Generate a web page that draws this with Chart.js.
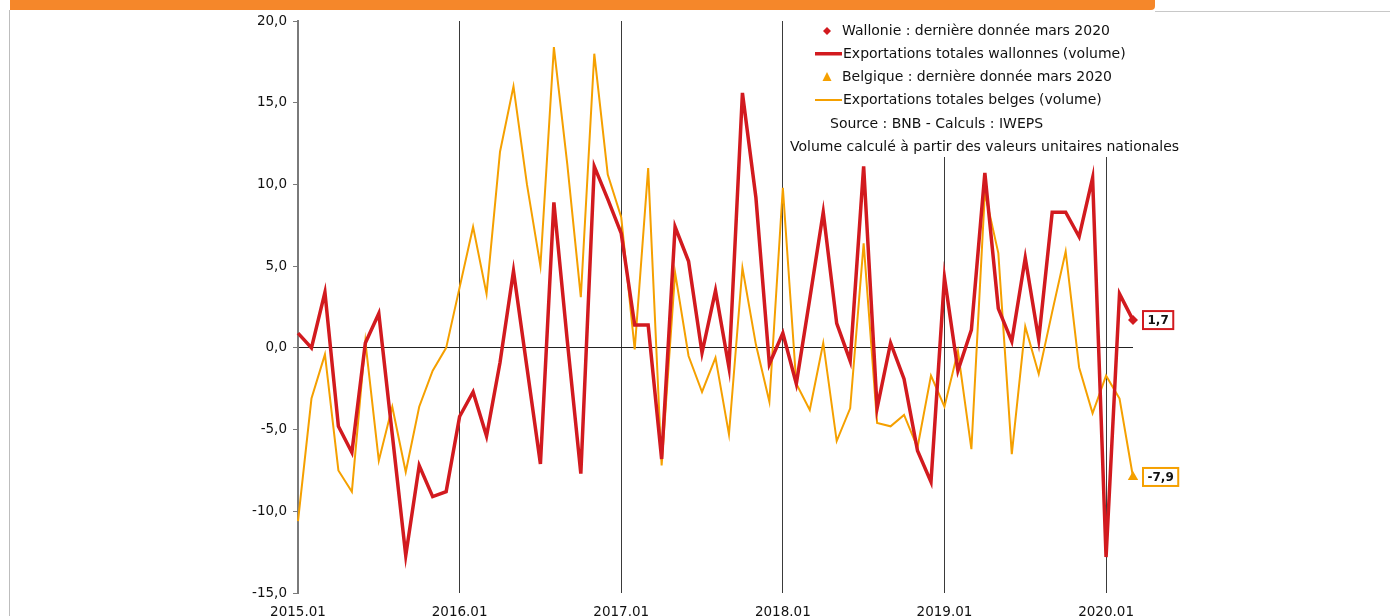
<!DOCTYPE html>
<html>
<head>
<meta charset="utf-8">
<script src="https://cdn.jsdelivr.net/npm/chart.js@4.4.1/dist/chart.umd.min.js"></script>
<style>
  body { margin: 0; background: #fff; overflow: hidden; width: 1394px; height: 616px; position: relative; }
  #topBar { position: absolute; left: 10px; top: 0; width: 1145px; height: 10px; background: #F5872A; border-bottom-right-radius: 4px; }
  #topLine { position: absolute; left: 1155px; top: 11px; width: 235px; height: 1px; background: #c8c8c8; }
  #leftLine { position: absolute; left: 9px; top: 10px; width: 1px; height: 620px; background: #bdbdbd; }
  #chart { position: absolute; left: 0; top: 0; }
</style>
</head>
<body>
<div id="topBar"></div>
<div id="topLine"></div>
<div id="leftLine"></div>
<canvas id="chart" width="1394" height="630"></canvas>
<script>
// Months 2015.01 -> 2020.03
const months = [];
for (let y = 2015; y <= 2020; y++) {
  for (let m = 1; m <= 12; m++) {
    if (y === 2020 && m > 3) break;
    months.push(y + "." + String(m).padStart(2, "0"));
  }
}
const yearTicks = ["2015.01", "2016.01", "2017.01", "2018.01", "2019.01", "2020.01"];

// Wallonie, growth in % (volume)
const wallonie = [
  0.9, 0.0, 3.4, -4.8, -6.4, 0.3, 2.1, -5.3, -12.7, -7.2, -9.1, -8.8,
  -4.2, -2.7, -5.4, -0.9, 4.7, -1.2, -7.1, 8.9, 0.4, -7.7, 11.1, 9.1,
  7.0, 1.4, 1.4, -6.8, 7.4, 5.3, -0.3, 3.5, -1.2, 15.6, 9.2, -1.0,
  0.9, -2.2, 3.0, 8.3, 1.5, -0.8, 11.1, -3.7, 0.3, -1.9, -6.3, -8.2,
  4.3, -1.4, 1.1, 10.7, 2.4, 0.4, 5.5, 0.5, 8.3, 8.3, 6.8, 10.4,
  -12.8, 3.3, 1.7
];

// Belgique, growth in % (volume)
const belgique = [
  -10.6, -3.1, -0.4, -7.5, -8.8, 0.4, -6.9, -3.6, -7.6, -3.6, -1.4, 0.0,
  3.7, 7.4, 3.3, 12.0, 16.0, 10.0, 5.0, 18.4, 11.2, 3.1, 18.0, 10.6,
  8.0, -0.1, 11.0, -7.2, 4.6, -0.5, -2.7, -0.6, -5.3, 4.9, 0.2, -3.3,
  9.8, -2.2, -3.8, 0.3, -5.7, -3.7, 6.4, -4.6, -4.8, -4.1, -6.1, -1.7,
  -3.6, -0.2, -6.2, 9.5, 5.8, -6.5, 1.3, -1.6, 2.2, 5.9, -1.2, -4.0,
  -1.7, -3.1, -7.9
];

const yTicks = [-15, -10, -5, 0, 5, 10, 15, 20];

const RED = "#D21A1F";
const ORANGE = "#F5A000";
const FONT = "'DejaVu Sans', sans-serif";

const last = months.length - 1;
const lastOnly = arr => arr.map((v, i) => (i === last ? v : null));

const fmt = v => v.toFixed(1).replace(".", ",");

// Legend box + value labels
const decorations = {
  id: "decorations",
  afterDraw(chart) {
    const c = chart.ctx;
    c.save();
    // legend
    c.fillStyle = "#fff";
    c.fillRect(785, 16, 400, 141);
    c.font = "14px " + FONT;
    c.textBaseline = "middle";
    c.textAlign = "left";

    // diamond
    c.fillStyle = RED;
    c.beginPath();
    c.moveTo(827, 27); c.lineTo(831, 31); c.lineTo(827, 35); c.lineTo(823, 31);
    c.closePath(); c.fill();
    // red line
    c.fillRect(815, 52, 27, 3.5);
    // triangle
    c.fillStyle = ORANGE;
    c.beginPath();
    c.moveTo(827, 72); c.lineTo(831.5, 81); c.lineTo(822.5, 81);
    c.closePath(); c.fill();
    // orange line
    c.fillRect(815, 99, 27, 2);

    c.fillStyle = "#111";
    c.fillText("Wallonie : dernière donnée mars 2020", 842, 31);
    c.fillText("Exportations totales wallonnes (volume)", 843, 54);
    c.fillText("Belgique : dernière donnée mars 2020", 842, 77);
    c.fillText("Exportations totales belges (volume)", 843, 100);
    c.fillText("Source : BNB - Calculs : IWEPS", 830, 124);
    c.fillText("Volume calculé à partir des valeurs unitaires nationales", 790, 147);

    // value boxes near last points
    const xs = chart.scales.x, ys = chart.scales.y;
    const boxes = [
      { v: wallonie[last], col: RED },
      { v: belgique[last], col: ORANGE }
    ];
    c.font = "bold 12px " + FONT;
    boxes.forEach(b => {
      const px = xs.getPixelForValue(last) + 10;
      const py = ys.getPixelForValue(b.v);
      const txt = fmt(b.v);
      const w = c.measureText(txt).width + 9;
      c.fillStyle = "#fff";
      c.fillRect(px, py - 9, w, 18);
      c.strokeStyle = b.col;
      c.lineWidth = 2;
      c.strokeRect(px, py - 9, w, 18);
      c.fillStyle = "#111";
      c.textAlign = "center";
      c.fillText(txt, px + w / 2, py + 1);
    });
    c.restore();
  }
};

new Chart(document.getElementById("chart"), {
  type: "line",
  data: {
    labels: months,
    datasets: [
      {
        label: "Wallonie : dernière donnée mars 2020",
        data: lastOnly(wallonie),
        showLine: false,
        pointStyle: "rectRot",
        pointRadius: 5,
        pointBackgroundColor: RED,
        pointBorderWidth: 0
      },
      {
        label: "Exportations totales wallonnes (volume)",
        data: wallonie,
        borderColor: RED,
        borderWidth: 3.5,
        pointRadius: 0,
        tension: 0
      },
      {
        label: "Belgique : dernière donnée mars 2020",
        data: lastOnly(belgique),
        showLine: false,
        pointStyle: "triangle",
        pointRadius: 6,
        pointBackgroundColor: ORANGE,
        pointBorderWidth: 0
      },
      {
        label: "Exportations totales belges (volume)",
        data: belgique,
        borderColor: ORANGE,
        borderWidth: 2,
        pointRadius: 0,
        tension: 0
      }
    ]
  },
  options: {
    responsive: false,
    animation: false,
    devicePixelRatio: 1,
    layout: { padding: { left: 248, right: 261, top: 21, bottom: 7 } },
    clip: false,
    plugins: {
      legend: { display: false },
      tooltip: { enabled: false }
    },
    scales: {
      x: {
        type: "category",
        offset: false,
        afterFit: s => { s.height = 30; },
        border: { display: false },
        grid: {
          drawTicks: false,
          color: ctx => (ctx.tick && yearTicks.includes(months[ctx.tick.value]) ? "#3a3a3a" : "rgba(0,0,0,0)"),
          lineWidth: 1
        },
        ticks: {
          autoSkip: false,
          maxRotation: 0,
          padding: 11,
          color: "#111",
          font: { family: FONT, size: 13.5 },
          callback: (v, i) => (yearTicks.includes(months[i]) ? months[i] : "")
        }
      },
      y: {
        min: yTicks[0],
        max: yTicks[yTicks.length - 1],
        afterFit: s => { s.width = 50; },
        afterBuildTicks: s => { s.ticks = yTicks.map(v => ({ value: v })); },
        border: { display: true, color: "#7a7a7a", width: 2 },
        grid: {
          color: ctx => (ctx.tick && ctx.tick.value === 0 ? "#222" : "rgba(0,0,0,0)"),
          tickColor: "#7a7a7a",
          tickLength: 5,
          lineWidth: 1
        },
        ticks: {
          padding: 6,
          color: "#111",
          font: { family: FONT, size: 13.5 },
          callback: v => fmt(v)
        }
      }
    }
  },
  plugins: [decorations]
});
</script>
</body>
</html>
